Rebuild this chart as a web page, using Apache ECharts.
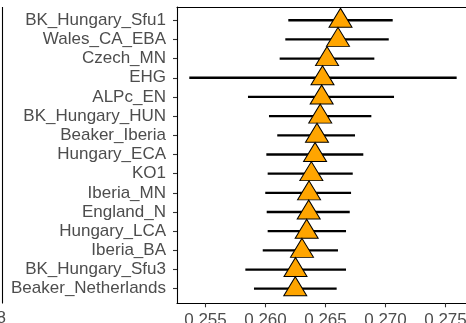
<!DOCTYPE html>
<html>
<head>
<meta charset="utf-8">
<script src="https://cdn.jsdelivr.net/npm/echarts@6/dist/echarts.min.js"></script>
<style>
html,body{margin:0;padding:0;background:#fff;}
#c{width:466px;height:323px;}
</style>
</head>
<body>
<div id="c"></div>
<script>
const categories = ["BK_Hungary_Sfu1","Wales_CA_EBA","Czech_MN","EHG","ALPc_EN","BK_Hungary_HUN","Beaker_Iberia","Hungary_ECA","KO1","Iberia_MN","England_N","Hungary_LCA","Iberia_BA","BK_Hungary_Sfu3","Beaker_Netherlands"];
const estimates = [0.26625,0.26604,0.26513,0.26475,0.26468,0.26456,0.26429,0.26413,0.26382,0.26363,0.26360,0.26343,0.26304,0.26250,0.26248];
const lower = [0.26190,0.26165,0.26118,0.25365,0.25854,0.26029,0.26098,0.26007,0.26018,0.25998,0.26010,0.26018,0.25977,0.25832,0.25904];
const upper = [0.27060,0.27027,0.26907,0.27593,0.27071,0.26882,0.26746,0.26815,0.26727,0.26713,0.26702,0.26671,0.26604,0.26671,0.26593];
const xTicks = [0.255,0.260,0.265,0.270,0.275];

const idx = categories.map((_, i) => i);
const chart = echarts.init(document.getElementById('c'), null, {renderer:'canvas'});
const font = '"Liberation Sans", Arial, sans-serif';
const xMin = 0.252625, xMax = 0.276708;

chart.setOption({
  animation: false,
  backgroundColor: '#fff',
  grid: {left: 177, right: 0, top: 7, bottom: 19.7, containLabel: false, outerBoundsMode: 'none'},
  xAxis: [{
    type: 'value', min: xMin, max: xMax, position: 'bottom',
    axisLine: {show: true, onZero: false, lineStyle: {color: '#000', width: 1.1}},
    axisTick: {show: true, length: 4, customValues: xTicks, lineStyle: {color: '#333', width: 1.1}},
    axisLabel: {customValues: xTicks, margin: 9, color: '#4D4D4D', fontSize: 17, fontFamily: font,
      hideOverlap: false, formatter: v => v.toFixed(3)},
    splitLine: {show: false}
  }, {
    type: 'value', min: xMin, max: xMax, position: 'top',
    axisLine: {show: true, onZero: false, lineStyle: {color: '#000', width: 1.1}},
    axisTick: {show: false}, axisLabel: {show: false}, splitLine: {show: false}
  }],
  yAxis: {
    type: 'value', inverse: true, min: -0.69, max: 14.76,
    axisLine: {show: true, onZero: false, lineStyle: {color: '#000', width: 1.1}},
    axisTick: {show: true, length: 4, customValues: idx, lineStyle: {color: '#333', width: 1.1}},
    axisLabel: {customValues: idx, margin: 11, color: '#4D4D4D', fontSize: 17, fontFamily: font,
      formatter: v => categories[Math.round(v)]},
    splitLine: {show: false}
  },
  graphic: [
    {type: 'line', shape: {x1: 2.5, y1: 7, x2: 2.5, y2: 303.5}, style: {stroke: '#000', lineWidth: 1.1}},
    {type: 'text', left: -3.5, top: 310, style: {text: '8', fill: '#4D4D4D', fontSize: 17, fontFamily: font}}
  ],
  series: [{
    type: 'custom',
    data: idx.map(i => [lower[i], upper[i], i]),
    encode: {x: [0, 1], y: 2},
    z: 2,
    renderItem: function (params, api) {
      const p1 = api.coord([api.value(0), api.value(2)]);
      const p2 = api.coord([api.value(1), api.value(2)]);
      return {type: 'line', shape: {x1: p1[0], y1: p1[1], x2: p2[0], y2: p2[1]},
        style: {stroke: '#000', lineWidth: 2.3}};
    }
  }, {
    type: 'scatter',
    data: idx.map(i => [estimates[i], i]),
    symbol: 'triangle',
    symbolSize: [23, 19],
    symbolOffset: [0, -2.5],
    z: 3,
    itemStyle: {color: '#FFA500', borderColor: '#000', borderWidth: 1, opacity: 1}
  }]
});
</script>
</body>
</html>
